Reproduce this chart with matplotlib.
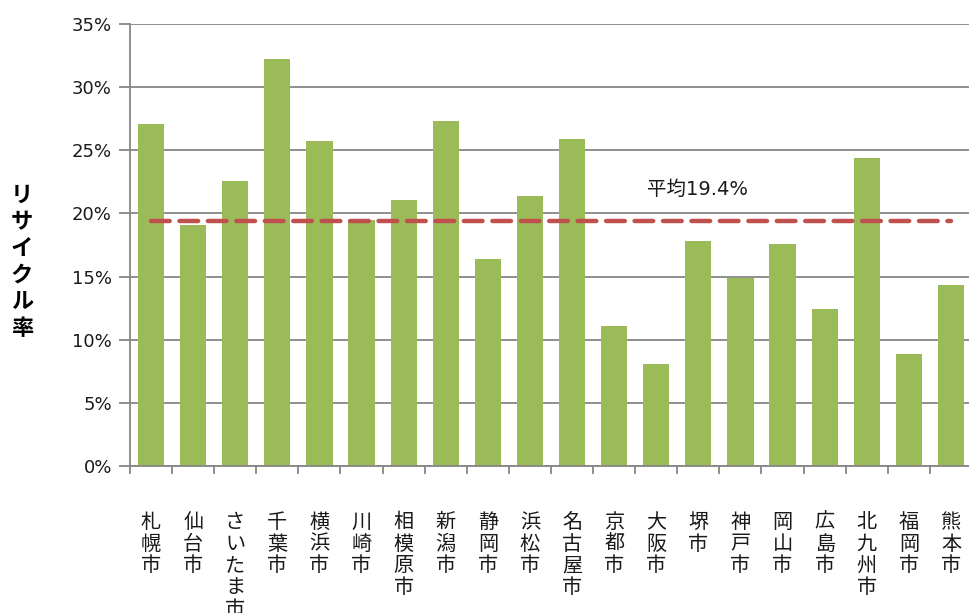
import matplotlib.pyplot as plt
import numpy as np
from matplotlib.ticker import PercentFormatter

plt.rcParams['font.family'] = ['Noto Sans CJK JP', 'DejaVu Sans']

# 政令市別リサイクル率
cities = ['札幌市', '仙台市', 'さいたま市', '千葉市', '横浜市', '川崎市', '相模原市',
          '新潟市', '静岡市', '浜松市', '名古屋市', '京都市', '大阪市', '堺市',
          '神戸市', '岡山市', '広島市', '北九州市', '福岡市', '熊本市']
rates = [27.1, 19.1, 22.6, 32.2, 25.7, 19.5, 21.1, 27.3, 16.4, 21.4,
         25.9, 11.1, 8.1, 17.8, 14.9, 17.6, 12.4, 24.4, 8.9, 14.3]
average = 19.4
yticks = [0, 5, 10, 15, 20, 25, 30, 35]

grid_col = '#868686'
bar_col = '#9BBB59'
avg_col = '#C0504D'

fig = plt.figure(figsize=(9.7, 6.13), dpi=100)
ax = fig.add_axes([130 / 970, 1 - 466 / 613, 842 / 970, 442 / 613])

x = np.arange(len(cities))
ax.bar(x, rates, width=0.62, color=bar_col, zorder=2)

# 平均線
ax.plot([x[0], x[-1]], [average, average], color=avg_col, lw=3.2,
        ls=(0, (4.2, 2.2)), dash_capstyle='round', zorder=3)
ax.text(12.97, average + 2.5, '平均{:.1f}%'.format(average), fontsize=14,
        family=['DejaVu Sans', 'Noto Sans CJK JP'],
        ha='center', va='center', color='#1a1a1a')

ax.set_xlim(-0.5, len(cities) - 0.5)
ax.set_ylim(0, 35)
ax.set_yticks(yticks)
ax.yaxis.set_major_formatter(PercentFormatter(decimals=0))
ax.grid(axis='y', color=grid_col, lw=1.3, zorder=0)
ax.tick_params(axis='y', length=8, width=1.3, color=grid_col, labelsize=13,
               labelcolor='#1a1a1a', pad=5)
for lab in ax.get_yticklabels():
    lab.set_family('DejaVu Sans')

# カテゴリ境界の目盛
ax.set_xticks(np.arange(-0.5, len(cities), 1.0), minor=True)
ax.tick_params(axis='x', which='minor', length=6, width=1.3, color=grid_col)
ax.set_xticks(x)
ax.set_xticklabels(['\n'.join(c) for c in cities], va='top', linespacing=1.05)
ax.tick_params(axis='x', which='major', length=0, pad=33, labelsize=14.5,
               labelcolor='#1a1a1a')

for s in ['top', 'right']:
    ax.spines[s].set_visible(False)
for s in ['left', 'bottom']:
    ax.spines[s].set_color(grid_col)
    ax.spines[s].set_linewidth(1.3)

fig.text(22 / 970, 1 - 262 / 613, '\n'.join('リサイクル率'), fontsize=16,
         fontweight='bold', ha='center', va='center', linespacing=1.2)

fig.savefig('out.png', dpi=100)
